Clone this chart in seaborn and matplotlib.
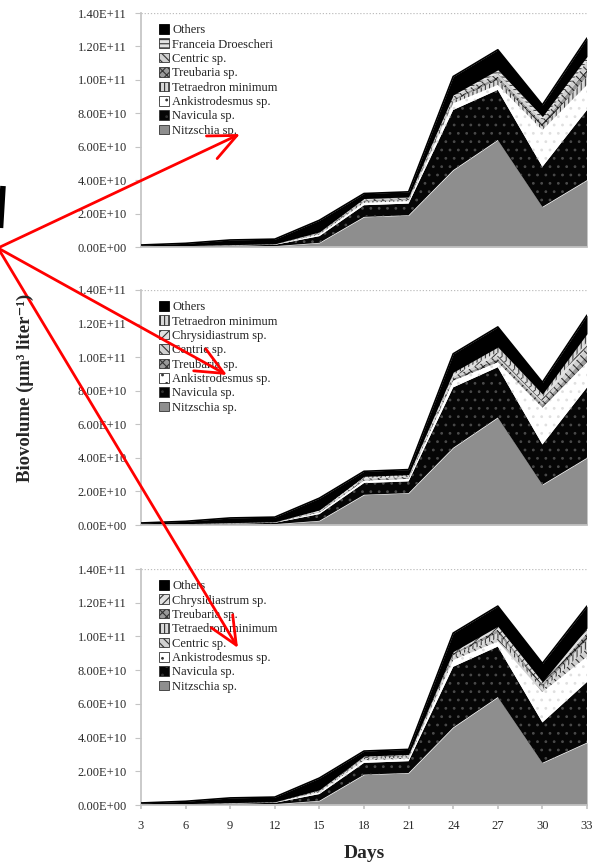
import numpy as np
import matplotlib
matplotlib.use("Agg")
import matplotlib.pyplot as plt
from matplotlib.patches import Patch, FancyArrowPatch
from matplotlib.lines import Line2D
import seaborn as sns

# Sampling days
days = [3, 6, 9, 12, 15, 18, 21, 24, 27, 30, 33]

# Biovolume per taxon, in 1e9 um^3 per liter (panels A and B)
nitzschia = [0, 0, 0, 0.5, 2.5, 18, 19, 46, 64, 24, 40]
navicula = [0.3, 0.5, 0.8, 0.8, 4, 7, 7, 36, 30, 24, 42]
ankistrodesmus = [0.1, 0.1, 0.2, 0.2, 1, 1.5, 1.5, 4, 3, 22, 15]
tetraedron = [0.05, 0.05, 0.1, 0.1, 0.5, 0.8, 0.8, 1.5, 3, 2, 5]
treubaria = [0.05, 0.05, 0.1, 0.1, 0.3, 0.5, 0.5, 1, 2, 2, 4]
centric = [0.05, 0.05, 0.1, 0.1, 0.4, 0.7, 0.7, 1.5, 2, 2, 5]
franceia = [0.05, 0.05, 0.1, 0.1, 0.3, 0.5, 0.5, 1, 2, 2, 3]
chrysidiastrum = [0.05, 0.05, 0.1, 0.1, 0.3, 0.5, 0.5, 1, 2, 2, 3]
others = [0.6, 1.4, 2.8, 2.8, 7, 3, 3, 11, 12, 7, 11]

# Panel C differs at the end of the run
nitzschia_c = [0, 0, 0, 0.5, 2.5, 18, 19, 46, 64, 25, 37]
navicula_c = [0.3, 0.5, 0.8, 0.8, 4, 7, 7, 36, 30, 24, 36]
ankistrodesmus_c = [0.1, 0.1, 0.2, 0.2, 1, 1.5, 1.5, 4, 3, 18, 15]
pattern_scale_c = [1, 1, 1, 1, 1, 1, 1, 1, 1, 0.75, 1]
others_c = [0.6, 1.4, 2.8, 2.8, 7, 3, 3, 11, 12, 11, 13]

y_ticks = [0, 2e10, 4e10, 6e10, 8e10, 1e11, 1.2e11, 1.4e11]
x_ticks = days

# Fill style for each taxon: face colour, hatch, hatch colour
styles = {
    "Nitzschia sp.": ("#8e8e8e", None, "#8e8e8e"),
    "Navicula sp.": ("#060606", "..", "#4a4a4a"),
    "Ankistrodesmus sp.": ("#ffffff", "..", "#e0e0e0"),
    "Tetraedron minimum": ("#d8d8d8", "||||", "#404040"),
    "Treubaria sp.": ("#9a9a9a", "xxxx", "#202020"),
    "Centric sp.": ("#d0d0d0", "\\\\\\\\", "#353535"),
    "Franceia Droescheri": ("#e4e4e4", "----", "#404040"),
    "Chrysidiastrum sp.": ("#e0e0e0", "////", "#404040"),
    "Others": ("#000000", None, "#000000"),
}

sns.set_theme(style="white")
plt.rcParams["font.family"] = ["Liberation Serif", "DejaVu Serif"]
plt.rcParams["hatch.linewidth"] = 0.8

scale = 1e9
panel_a = [("Nitzschia sp.", nitzschia), ("Navicula sp.", navicula),
           ("Ankistrodesmus sp.", ankistrodesmus), ("Tetraedron minimum", tetraedron),
           ("Treubaria sp.", treubaria), ("Centric sp.", centric),
           ("Franceia Droescheri", franceia), ("Others", others)]
panel_b = [("Nitzschia sp.", nitzschia), ("Navicula sp.", navicula),
           ("Ankistrodesmus sp.", ankistrodesmus), ("Treubaria sp.", treubaria),
           ("Centric sp.", centric), ("Chrysidiastrum sp.", chrysidiastrum),
           ("Tetraedron minimum", tetraedron), ("Others", others)]
panel_c = [("Nitzschia sp.", nitzschia_c), ("Navicula sp.", navicula_c),
           ("Ankistrodesmus sp.", ankistrodesmus_c),
           ("Centric sp.", [v * s for v, s in zip(centric, pattern_scale_c)]),
           ("Tetraedron minimum", [v * s for v, s in zip(tetraedron, pattern_scale_c)]),
           ("Treubaria sp.", [v * s for v, s in zip(treubaria, pattern_scale_c)]),
           ("Chrysidiastrum sp.", [v * s for v, s in zip(chrysidiastrum, pattern_scale_c)]),
           ("Others", others_c)]

fig = plt.figure(figsize=(5.95, 8.64), dpi=100)
W, H = 595, 864
left, right = 141, 587
panel_rows = [(13, 247), (290, 525), (569, 805)]


def draw_panel(ax, layers, show_x):
    x = np.array(days, dtype=float)
    base = np.zeros_like(x)
    for name, vals in layers:
        top = base + np.array(vals, dtype=float) * scale
        fc, hatch, hc = styles[name]
        ax.fill_between(x, base, top, facecolor=fc, edgecolor=hc,
                        hatch=hatch, linewidth=0, zorder=2)
        base = top
    sns.lineplot(x=x, y=base, ax=ax, color="black", linewidth=1.2, zorder=3)
    ax.set_xlim(3, 33)
    ax.set_ylim(0, 1.4e11)
    ax.set_yticks(y_ticks)
    ax.set_yticklabels([f"{v:.2E}" for v in y_ticks], fontsize=9, color="#2a2a2a")
    ax.axhline(1.4e11, color="#bdbdbd", lw=0.9, ls=(0, (1, 1.5)), zorder=1)
    sns.despine(ax=ax, top=True, right=True)
    ax.spines["left"].set_color("#c4c4c4")
    ax.spines["bottom"].set_color("#c4c4c4")
    ax.tick_params(axis="y", length=4, width=0.8, color="#c4c4c4", pad=6, left=True)
    ax.set_xticks(x_ticks)
    if show_x:
        ax.set_xticklabels([str(d) for d in x_ticks], fontsize=9, color="#2a2a2a")
        ax.tick_params(axis="x", length=3, color="#c4c4c4", pad=8, bottom=True)
    else:
        ax.set_xticklabels([])
        ax.tick_params(axis="x", length=0)
    handles = []
    for name, _ in reversed(layers):
        fc, hatch, hc = styles[name]
        handles.append(Patch(facecolor=fc, edgecolor="#333333" if fc != "#000000" else hc,
                             hatch=hatch, linewidth=0.6, label=name))
    ax.legend(handles=handles, loc="upper left", frameon=False, fontsize=9,
              handlelength=0.8, handleheight=0.8, handletextpad=0.3,
              labelspacing=0.18, borderaxespad=0.3, bbox_to_anchor=(0.02, 0.99),
              labelcolor="#222222")


for (t, b), layers, show_x in zip(panel_rows, [panel_a, panel_b, panel_c],
                                   [False, False, True]):
    ax = fig.add_axes([left / W, 1 - b / H, (right - left) / W, (b - t) / H])
    draw_panel(ax, layers, show_x)

fig.text(25 / W, 1 - 388 / H, "Biovolume (μm³ liter⁻¹)", rotation=90,
         ha="center", va="center", fontsize=13.5, fontweight="bold")
fig.text(364 / W, 1 - 853 / H, "Days", ha="center", va="center",
         fontsize=14, fontweight="bold")

# Red pointer arrows fanning out from the left margin
origin = (-2 / W, 1 - 248 / H)
for tip in [(240, 134), (227, 375), (238, 648)]:
    arr = FancyArrowPatch(origin, (tip[0] / W, 1 - tip[1] / H),
                          transform=fig.transFigure,
                          arrowstyle="->,head_length=1.0,head_width=0.45",
                          mutation_scale=20, color="#ff0000", lw=2.0,
                          shrinkA=0, shrinkB=0)
    fig.add_artist(arr)

# Bracket stroke at the far left edge
fig.add_artist(Line2D([3 / W, 0.5 / W], [1 - 186 / H, 1 - 228 / H],
                      transform=fig.transFigure, color="black", lw=4,
                      solid_capstyle="butt"))

fig.savefig("out.png", dpi=100)
